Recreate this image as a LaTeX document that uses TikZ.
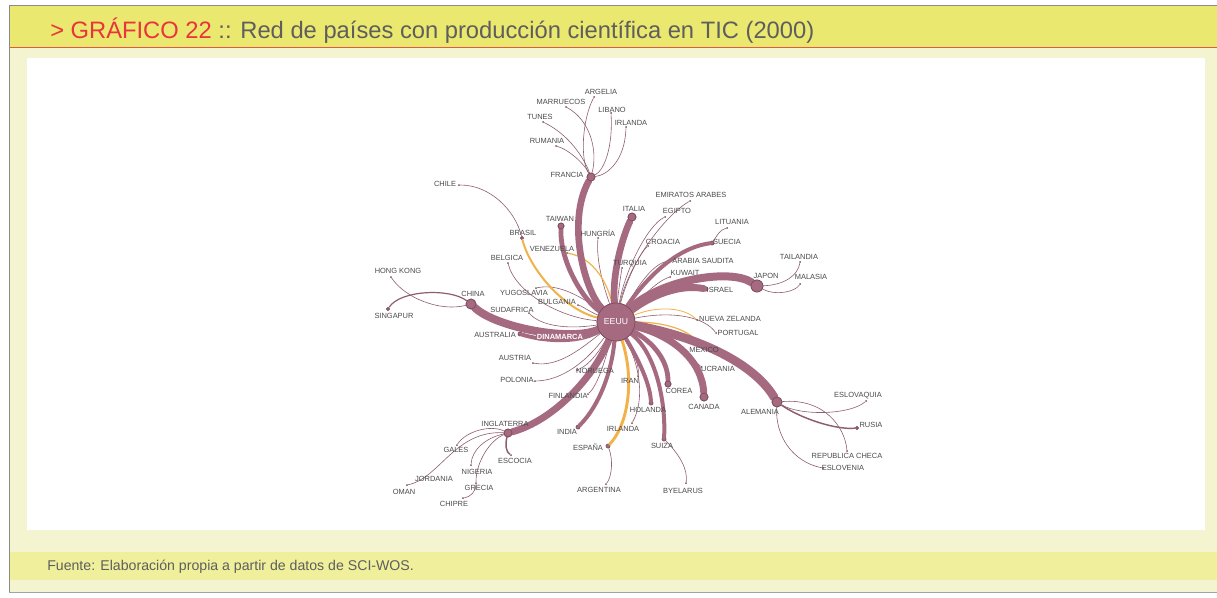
\documentclass[tikz,border=0pt]{standalone}
\usepackage{fontspec}
\setmainfont{Liberation Sans}
\definecolor{headyel}{HTML}{EAE86E}
\definecolor{lightyel}{HTML}{F4F5D0}
\definecolor{footyel}{HTML}{EFEF9C}
\definecolor{redline}{HTML}{E05A45}
\definecolor{frameg}{HTML}{8C8C84}
\definecolor{titred}{HTML}{E8343A}
\definecolor{titgray}{HTML}{5E5E5E}
\definecolor{mauve}{HTML}{A56A80}
\definecolor{mauvedk}{HTML}{7A4A5C}
\definecolor{thinc}{HTML}{8E5E6C}
\definecolor{orangec}{HTML}{F2B24A}
\definecolor{labc}{HTML}{4A4A4A}
\newcommand\labfont{\fontsize{5.6}{6}\selectfont}
\tikzset{
  thick e/.style={draw=mauve, line width=#1, line cap=round},
  thin e/.style={draw=thinc, line width=0.45pt},
  orange e/.style={draw=orangec, line width=#1, line cap=round},
  hub/.style={circle, fill=mauve, draw=mauvedk, line width=0.5pt, inner sep=0pt, minimum size=#1},
  dot/.style={circle, fill=mauvedk, inner sep=0pt, minimum size=1.5pt},
  lab/.style={font=\labfont, text=labc, inner sep=0pt},
}
\begin{document}
\begin{tikzpicture}[x=0.75pt,y=-0.75pt]
\useasboundingbox (0,0) rectangle (1217,597);
% ---- frame ----
\fill[white] (0,0) rectangle (1217,597);
\fill[lightyel] (9,5) rectangle (1217,592);
\fill[headyel] (9,5) rectangle (1217,47);
\draw[redline, line width=1.2pt] (9,47.5) -- (1217,47.5);
\fill[white] (27,58) rectangle (1205,530);
\fill[footyel] (9,552) rectangle (1217,580);
\draw[frameg, line width=1pt] (9.5,5) -- (9.5,593);
\draw[frameg, line width=1pt] (9,5.5) -- (1217,5.5);
\draw[frameg!80, line width=1pt] (9,592.5) -- (1217,592.5);
\node[anchor=west, inner sep=0pt, font=\fontsize{17.8}{20}\selectfont] (title) at (50,31)
  {\textcolor{titred}{> GRÁFICO 22} \textcolor{titgray}{:: Red de países con producción científica en TIC (2000)}};
\node[anchor=west, inner sep=0pt, font=\fontsize{10.6}{12}\selectfont, text=titgray] (fuente) at (47,567)
  {Fuente: Elaboración propia a partir de datos de SCI-WOS.};
% ---- hubs ----
\node[hub=28.5pt] (eeuu) at (616,322) {};
\node[hub=6pt] (francia) at (591,177) {};
\node[hub=6pt] (italia) at (632,217) {};
\node[hub=4.5pt] (taiwan) at (561,226) {};
\node[hub=7.5pt] (china) at (471,304) {};
\node[hub=9pt] (japon) at (757,286) {};
\node[hub=6pt] (canada) at (704,397) {};
\node[hub=7.5pt] (alemania) at (777,402) {};
\node[hub=6pt] (inglaterra) at (508,433) {};
\node[hub=4.5pt] (corea) at (668,384) {};
\node[hub=3pt] (holanda) at (651,403) {};
\node[hub=3pt] (suiza) at (664,439) {};
\node[hub=3pt] (india) at (578,427) {};
\node[hub=3pt] (espana) at (608,446) {};
\node[hub=3pt] (suecia) at (712,243) {};
\node[hub=3pt] (israel) at (706,289) {};
\node[hub=2.5pt] (brasil) at (522,238) {};
\node[hub=3pt] (australia) at (520,334) {};
\node[hub=2.5pt] (singapur) at (388,309) {};
\node[hub=2.5pt] (rusia) at (857,428) {};
% ---- leaf end points ----
\node[dot] (argelia) at (594,97) {};
\node[dot] (marruecos) at (566,107) {};
\node[dot] (tunes) at (543,122) {};
\node[dot] (rumania) at (556,146) {};
\node[dot] (libano) at (611,113) {};
\node[dot] (irlandan) at (626,127) {};
\node[dot] (chile) at (459,185) {};
\node[dot] (hungria) at (598,238) {};
\node[dot] (venezuela) at (567,253) {};
\node[dot] (belgica) at (508,263) {};
\node[dot] (yugoslavia) at (536,288) {};
\node[dot] (bulgania) at (578,305) {};
\node[dot] (sudafrica) at (529,313) {};
\node[dot] (dinamarca) at (537,337) {};
\node[dot] (hongkong) at (391,277) {};
\node[dot] (austria) at (533,363) {};
\node[dot] (polonia) at (535,381) {};
\node[dot] (noruega) at (577,370) {};
\node[dot] (finlandia) at (588,394) {};
\node[dot] (iran) at (638,376) {};
\node[dot] (irlandas) at (632,423) {};
\node[dot] (argentina) at (606,484) {};
\node[dot] (byelarus) at (686,483) {};
\node[dot] (ucrania) at (701,367) {};
\node[dot] (mexico) at (700,345) {};
\node[dot] (portugal) at (716,333) {};
\node[dot] (nzelanda) at (697,320) {};
\node[dot] (kuwait) at (670,277) {};
\node[dot] (arabia) at (668,261) {};
\node[dot] (turquia) at (622,268) {};
\node[dot] (croacia) at (648,246) {};
\node[dot] (egipto) at (665,217) {};
\node[dot] (emiratos) at (690,201) {};
\node[dot] (lituania) at (727,228) {};
\node[dot] (tailandia) at (800,262) {};
\node[dot] (malasia) at (800,284) {};
\node[dot] (eslovaquia) at (866,401) {};
\node[dot] (checa) at (847,451) {};
\node[dot] (eslovenia) at (823,468) {};
\node[dot] (escocia) at (511,455) {};
\node[dot] (gales) at (457,445) {};
\node[dot] (oman) at (407,485) {};
\node[dot] (nigeria) at (471,465) {};
\node[dot] (grecia) at (476,483) {};
\node[dot] (chipre) at (463,498) {};
% ---- thin edges ----
\draw[thin e] (eeuu) .. controls (603,285) and (596,260) .. (hungria);
\draw[thin e] (eeuu) .. controls (560,318) and (515,292) .. (belgica);
\draw[thin e] (eeuu) .. controls (575,292) and (555,284) .. (yugoslavia);
\draw[thin e] (eeuu) .. controls (590,312) and (582,306) .. (bulgania);
\draw[thin e] (eeuu) .. controls (565,330) and (540,325) .. (sudafrica);
\draw[thin e] (eeuu) .. controls (585,345) and (560,368) .. (austria);
\draw[thin e] (eeuu) .. controls (595,350) and (570,380) .. (polonia);
\draw[thin e] (eeuu) .. controls (600,350) and (590,365) .. (noruega);
\draw[thin e] (eeuu) .. controls (605,360) and (598,385) .. (finlandia);
\draw[thin e] (eeuu) .. controls (630,350) and (640,362) .. (iran);
\draw[thin e] (eeuu) .. controls (640,365) and (645,400) .. (irlandas);
\draw[thin e] (eeuu) .. controls (660,335) and (690,355) .. (ucrania);
\draw[thin e] (eeuu) .. controls (675,310) and (705,318) .. (portugal);
\draw[thin e] (eeuu) .. controls (640,300) and (655,282) .. (kuwait);
\draw[thin e] (eeuu) .. controls (635,292) and (650,265) .. (arabia);
\draw[thin e] (eeuu) .. controls (618,295) and (620,280) .. (turquia);
\draw[thin e] (eeuu) .. controls (625,285) and (638,255) .. (croacia);
\draw[thin e] (eeuu) .. controls (625,270) and (648,225) .. (egipto);
\draw[thin e] (eeuu) .. controls (628,265) and (665,215) .. (emiratos);
\draw[thin e] (francia) .. controls (580,160) and (582,120) .. (argelia);
\draw[thin e] (francia) .. controls (598,150) and (590,120) .. (marruecos);
\draw[thin e] (francia) .. controls (585,160) and (570,135) .. (tunes);
\draw[thin e] (francia) .. controls (585,165) and (570,150) .. (rumania);
\draw[thin e] (francia) .. controls (605,170) and (613,145) .. (libano);
\draw[thin e] (francia) .. controls (608,175) and (625,160) .. (irlandan);
\draw[thin e] (brasil) .. controls (515,210) and (490,185) .. (chile);
\draw[thin e] (china) .. controls (440,312) and (405,298) .. (hongkong);
\draw[thin e, line width=0.9pt] (china) .. controls (450,288) and (400,290) .. (singapur);
\draw[thin e] (suecia) .. controls (718,234) and (720,230) .. (lituania);
\draw[thin e] (japon) .. controls (785,285) and (798,275) .. (tailandia);
\draw[thin e] (japon) .. controls (775,296) and (795,292) .. (malasia);
\draw[thin e] (alemania) .. controls (800,416) and (850,415) .. (eslovaquia);
\draw[thin e, line width=1.1pt] (alemania) .. controls (800,418) and (835,430) .. (rusia);
\draw[thin e] (alemania) .. controls (825,398) and (845,428) .. (checa);
\draw[thin e] (alemania) .. controls (775,435) and (792,462) .. (eslovenia);
\draw[thin e, line width=1.1pt] (inglaterra) .. controls (505,445) and (506,452) .. (escocia);
\draw[thin e] (inglaterra) .. controls (490,424) and (465,432) .. (gales);
\draw[thin e] (inglaterra) .. controls (455,430) and (440,478) .. (oman);
\draw[thin e] (inglaterra) .. controls (485,438) and (472,450) .. (nigeria);
\draw[thin e] (inglaterra) .. controls (490,440) and (476,462) .. (grecia);
\draw[thin e] (grecia) .. controls (476,492) and (470,497) .. (chipre);
\draw[thin e] (espana) .. controls (614,462) and (611,478) .. (argentina);
\draw[thin e] (suiza) .. controls (680,455) and (688,470) .. (byelarus);
% ---- orange edges ----
\draw[orange e=0.6pt] (eeuu) .. controls (660,305) and (685,308) .. (nzelanda);
\draw[orange e=1.5pt] (eeuu) .. controls (565,310) and (530,270) .. (brasil);
\draw[orange e=0.9pt] (eeuu) .. controls (608,285) and (595,258) .. (venezuela);
\draw[orange e=2.2pt] (eeuu) .. controls (635,380) and (628,425) .. (espana);
\draw[orange e=0.9pt] (eeuu) .. controls (665,322) and (690,330) .. (mexico);
% ---- thick edges ----
\draw[thick e=5pt] (eeuu) .. controls (585,292) and (566,222) .. (francia);
\draw[thick e=5pt] (eeuu) .. controls (612,275) and (622,238) .. (italia);
\draw[thick e=3.6pt] (eeuu) .. controls (583,300) and (560,262) .. (taiwan);
\draw[thick e=6pt] (eeuu) .. controls (570,342) and (495,327) .. (china);
\draw[thick e=3pt] (eeuu) .. controls (575,345) and (540,340) .. (australia);
\draw[thick e=4.5pt] (eeuu) .. controls (585,335) and (555,340) .. (dinamarca);
\draw[thick e=5.2pt] (eeuu) .. controls (595,375) and (555,420) .. (inglaterra);
\draw[thick e=3pt] (eeuu) .. controls (612,370) and (600,405) .. (india);
\draw[thick e=3pt] (eeuu) .. controls (640,362) and (650,385) .. (holanda);
\draw[thick e=3pt] (eeuu) .. controls (655,352) and (666,400) .. (suiza);
\draw[thick e=3.6pt] (eeuu) .. controls (655,343) and (668,362) .. (corea);
\draw[thick e=5.2pt] (eeuu) .. controls (672,335) and (702,360) .. (canada);
\draw[thick e=6.5pt] (eeuu) .. controls (690,335) and (752,360) .. (alemania);
\draw[thick e=5.2pt] (eeuu) .. controls (652,295) and (680,284) .. (israel);
\draw[thick e=6pt] (eeuu) .. controls (660,280) and (730,268) .. (japon);
\draw[thick e=3pt] (eeuu) .. controls (645,280) and (675,248) .. (suecia);
% redraw hubs on top of their connectors
\foreach \h/\s/\p in {eeuu/28.5pt/{(616,322)}, francia/6pt/{(591,177)}, italia/6pt/{(632,217)}, taiwan/4.5pt/{(561,226)},
  china/7.5pt/{(471,304)}, japon/9pt/{(757,286)}, canada/6pt/{(704,397)}, alemania/7.5pt/{(777,402)},
  inglaterra/6pt/{(508,433)}, corea/4.5pt/{(668,384)}}
  \node[hub=\s] (\h-top) at \p {};
% ---- labels ----
\node[font=\fontsize{6.5}{7}\selectfont, text=white, inner sep=0pt] (l-eeuu) at (616,322) {EEUU};
\node[font=\labfont\bfseries, text=white, inner sep=0pt] (l-dinamarca) at (560,337) {DINAMARCA};
\node[lab] (l-argelia) at (601,92) {ARGELIA};
\node[lab] (l-marruecos) at (561,102) {MARRUECOS};
\node[lab] (l-libano) at (612,110) {LIBANO};
\node[lab] (l-irlandan) at (631,123) {IRLANDA};
\node[lab] (l-tunes) at (540,117) {TUNES};
\node[lab] (l-rumania) at (547,141) {RUMANIA};
\node[lab] (l-francia) at (567,175) {FRANCIA};
\node[lab] (l-chile) at (445,184) {CHILE};
\node[lab] (l-emiratos) at (691,195) {EMIRATOS ARABES};
\node[lab] (l-italia) at (634,209) {ITALIA};
\node[lab] (l-egipto) at (677,211) {EGIPTO};
\node[lab] (l-taiwan) at (560,219) {TAIWAN};
\node[lab] (l-lituania) at (732,222) {LITUANIA};
\node[lab] (l-brasil) at (523,233) {BRASIL};
\node[lab] (l-hungria) at (598,233) {HUNGRÍA};
\node[lab] (l-croacia) at (663,242) {CROACIA};
\node[lab] (l-suecia) at (727,242) {SUECIA};
\node[lab] (l-venezuela) at (552,249) {VENEZUELA};
\node[lab] (l-belgica) at (507,258) {BELGICA};
\node[lab] (l-tailandia) at (799,257) {TAILANDIA};
\node[lab] (l-arabia) at (703,261) {ARABIA SAUDITA};
\node[lab] (l-turquia) at (630,264) {TURQUIA};
\node[lab] (l-hongkong) at (398,271) {HONG KONG};
\node[lab] (l-kuwait) at (685,273) {KUWAIT};
\node[lab] (l-japon) at (766,276) {JAPON};
\node[lab] (l-malasia) at (811,277) {MALASIA};
\node[lab] (l-israel) at (720,290) {ISRAEL};
\node[lab] (l-yugoslavia) at (524,293) {YUGOSLAVIA};
\node[lab] (l-china) at (473,294) {CHINA};
\node[lab] (l-bulgania) at (557,302) {BULGANIA};
\node[lab] (l-sudafrica) at (512,310) {SUDAFRICA};
\node[lab] (l-singapur) at (394,316) {SINGAPUR};
\node[lab] (l-nzelanda) at (730,319) {NUEVA ZELANDA};
\node[lab] (l-portugal) at (738,333) {PORTUGAL};
\node[lab] (l-australia) at (495,335) {AUSTRALIA};
\node[lab] (l-mexico) at (704,350) {MEXICO};
\node[lab] (l-austria) at (515,358) {AUSTRIA};
\node[lab] (l-ucrania) at (718,369) {UCRANIA};
\node[lab] (l-noruega) at (595,371) {NORUEGA};
\node[lab] (l-polonia) at (517,380) {POLONIA};
\node[lab] (l-iran) at (630,381) {IRAN};
\node[lab] (l-corea) at (679,391) {COREA};
\node[lab] (l-finlandia) at (568,396) {FINLANDIA};
\node[lab] (l-eslovaquia) at (858,396) {ESLOVAQUIA};
\node[lab] (l-canada) at (704,407) {CANADA};
\node[lab] (l-holanda) at (648,410) {HOLANDA};
\node[lab] (l-alemania) at (760,412) {ALEMANIA};
\node[lab] (l-inglaterra) at (505,424) {INGLATERRA};
\node[lab] (l-rusia) at (871,425) {RUSIA};
\node[lab] (l-irlandas) at (623,429) {IRLANDA};
\node[lab] (l-india) at (567,432) {INDIA};
\node[lab] (l-espana) at (588,447) {ESPAÑA};
\node[lab] (l-suiza) at (662,446) {SUIZA};
\node[lab] (l-gales) at (456,450) {GALES};
\node[lab] (l-checa) at (847,456) {REPUBLICA CHECA};
\node[lab] (l-escocia) at (515,461) {ESCOCIA};
\node[lab] (l-eslovenia) at (843,468) {ESLOVENIA};
\node[lab] (l-nigeria) at (477,472) {NIGERIA};
\node[lab] (l-jordania) at (434,479) {JORDANIA};
\node[lab] (l-grecia) at (479,488) {GRECIA};
\node[lab] (l-argentina) at (599,490) {ARGENTINA};
\node[lab] (l-byelarus) at (683,491) {BYELARUS};
\node[lab] (l-oman) at (404,492) {OMAN};
\node[lab] (l-chipre) at (454,504) {CHIPRE};
\end{tikzpicture}
\end{document}
